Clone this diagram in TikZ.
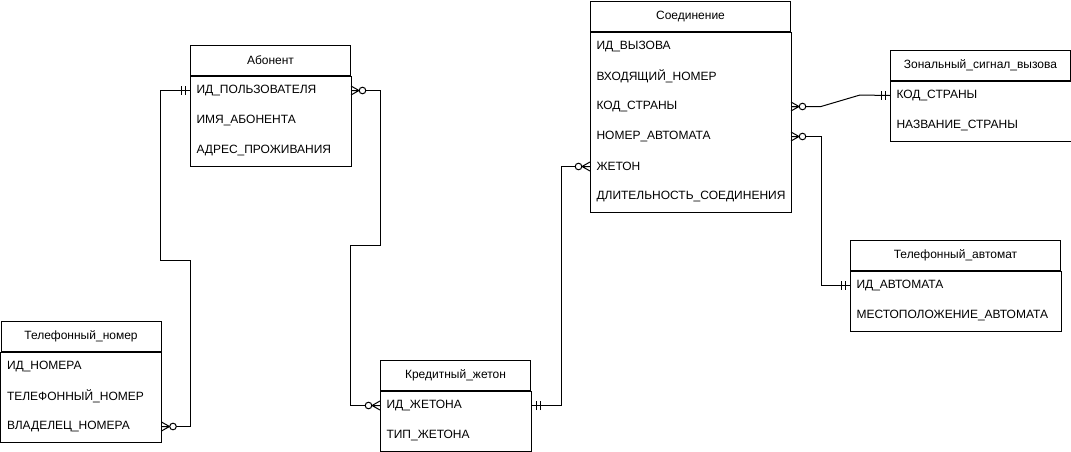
\documentclass[tikz,border=0pt]{standalone}
\usepackage{fontspec}
\setmainfont{Liberation Sans}
\begin{document}
\begin{tikzpicture}[x=1pt,y=1pt,line width=1pt,
  every node/.style={font=\fontsize{12}{14}\selectfont},
  hdr/.style={draw,minimum height=30pt,inner sep=0pt,anchor=north west},
  row/.style={minimum height=30pt,inner xsep=6pt,inner ysep=0pt,align=left,anchor=north west},
  conn/.style={line width=1pt},
  pics/zm/.style={code={
    \draw[line width=1pt] (0,4.5)--(8,0) (0,0)--(8,0) (0,-4.5)--(8,0);
    \draw[line width=1pt,fill=white] (11.5,0) circle (3.3);}},
  pics/one/.style={code={
    \draw[line width=1pt] (5,-4.5)--(5,4.5) (9,-4.5)--(9,4.5);}}
]
\useasboundingbox (0,0) rectangle (1071,-451);

% Абонент
\node[hdr,minimum width=160pt] (ab) at (190,-45) {Абонент};
\node[row,text width=148pt] (ab1) at (190,-75) {ИД\_ПОЛЬЗОВАТЕЛЯ};
\node[row,text width=148pt] (ab2) at (190,-105) {ИМЯ\_АБОНЕНТА};
\node[row,text width=148pt] (ab3) at (190,-135) {АДРЕС\_ПРОЖИВАНИЯ};
\draw (ab.south west) rectangle (ab3.south east);

% Соединение
\node[hdr,minimum width=200pt] (con) at (590,-1) {Соединение};
\node[row,text width=188pt] (con1) at (590,-31) {ИД\_ВЫЗОВА};
\node[row,text width=188pt] (con2) at (590,-61) {ВХОДЯЩИЙ\_НОМЕР};
\node[row,text width=188pt] (con3) at (590,-91) {КОД\_СТРАНЫ};
\node[row,text width=188pt] (con4) at (590,-121) {НОМЕР\_АВТОМАТА};
\node[row,text width=188pt] (con5) at (590,-151) {ЖЕТОН};
\node[row,text width=188pt] (con6) at (590,-181) {ДЛИТЕЛЬНОСТЬ\_СОЕДИНЕНИЯ};
\draw (con.south west) rectangle (con6.south east);

% Зональный_сигнал_вызова
\node[hdr,minimum width=180pt] (zon) at (890,-50) {Зональный\_сигнал\_вызова};
\node[row,text width=168pt] (zon1) at (890,-80) {КОД\_СТРАНЫ};
\node[row,text width=168pt] (zon2) at (890,-110) {НАЗВАНИЕ\_СТРАНЫ};
\draw (zon.south west) rectangle (zon2.south east);

% Телефонный_автомат
\node[hdr,minimum width=210pt] (avt) at (850,-240) {Телефонный\_автомат};
\node[row,text width=198pt] (avt1) at (850,-270) {ИД\_АВТОМАТА};
\node[row,text width=198pt] (avt2) at (850,-300) {МЕСТОПОЛОЖЕНИЕ\_АВТОМАТА};
\draw (avt.south west) rectangle (avt2.south east);

% Телефонный_номер
\node[hdr,minimum width=160pt] (nom) at (0.5,-321) {Телефонный\_номер};
\node[row,text width=148pt] (nom1) at (0.5,-351) {ИД\_НОМЕРА};
\node[row,text width=148pt] (nom2) at (0.5,-381) {ТЕЛЕФОННЫЙ\_НОМЕР};
\node[row,text width=148pt] (nom3) at (0.5,-411) {ВЛАДЕЛЕЦ\_НОМЕРА};
\draw (nom.south west) rectangle (nom3.south east);

% Кредитный_жетон
\node[hdr,minimum width=150pt] (jet) at (380,-360) {Кредитный\_жетон};
\node[row,text width=138pt] (jet1) at (380,-390) {ИД\_ЖЕТОНА};
\node[row,text width=138pt] (jet2) at (380,-420) {ТИП\_ЖЕТОНА};
\draw (jet.south west) rectangle (jet2.south east);

% connectors
\draw[conn] (ab1.west) -| (160,-260) -- (190,-260) |- (nom3.east);
\draw[conn] (ab1.east) -| (380,-245) -- (350,-245) |- (jet1.west);
\draw[conn] (jet1.east) -- ++(30,0) |- (con5.west);
\draw[conn] (con3.east) -- ++(30,0) -- (860,-95) -- (zon1.west);
\draw[conn] (con4.east) -- ++(30,0) |- (avt1.west);

% end marks
\pic[rotate=180] at (ab1.west) {one};
\pic at (nom3.east) {zm};
\pic at (ab1.east) {zm};
\pic[rotate=180] at (jet1.west) {zm};
\pic at (jet1.east) {one};
\pic[rotate=180] at (con5.west) {zm};
\pic at (con3.east) {zm};
\pic[rotate=180] at (zon1.west) {one};
\pic at (con4.east) {zm};
\pic[rotate=180] at (avt1.west) {one};
\end{tikzpicture}
\end{document}
